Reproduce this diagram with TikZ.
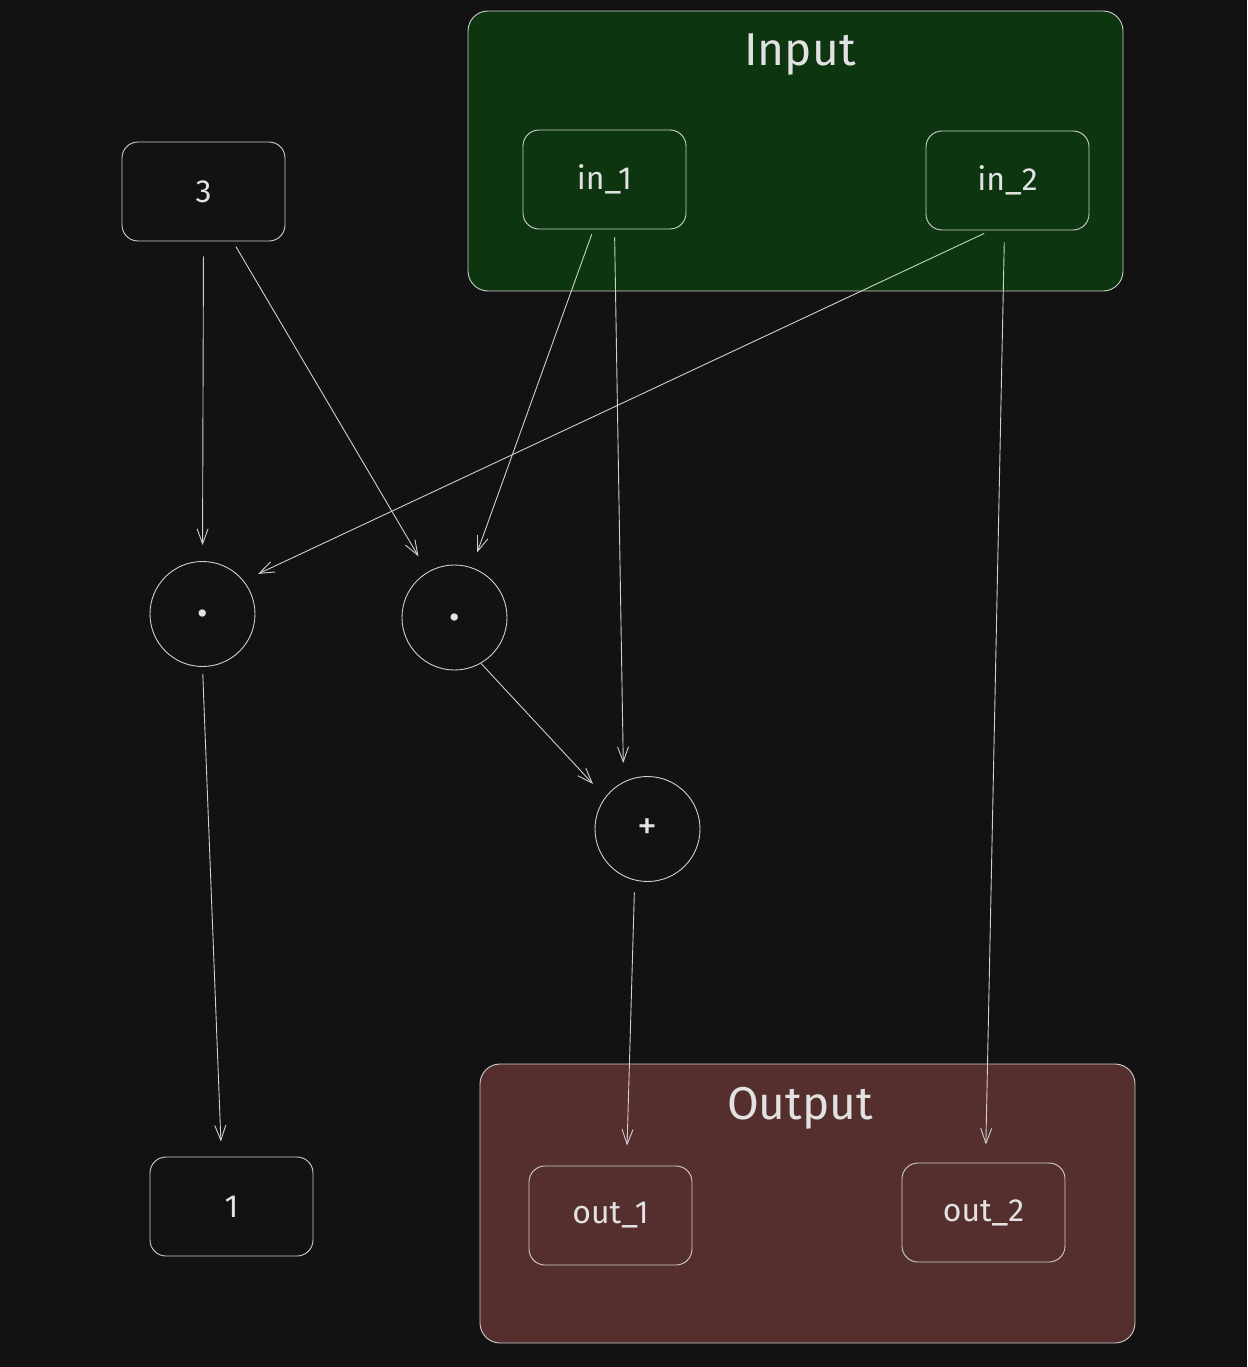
\documentclass[tikz,border=0pt]{standalone}
\usepackage{fontspec}
\setmainfont{Fira Sans}
\usetikzlibrary{arrows.meta}
\definecolor{bg}{HTML}{121212}
\definecolor{ingreen}{HTML}{0D3510}
\definecolor{outred}{HTML}{552F2E}
\definecolor{strokec}{HTML}{CFCFCF}
\definecolor{textc}{HTML}{E2E2E2}
\tikzset{
  container/.style={draw=strokec, line width=0.9pt, rounded corners=20pt, inner sep=0pt},
  title/.style={text=textc, font=\fontsize{46}{48}\selectfont},
  valbox/.style={draw=strokec, line width=0.9pt, rounded corners=16pt, minimum width=163pt, minimum height=99pt, inner sep=0pt, text=textc, font=\fontsize{32}{34}\selectfont},
  opnode/.style={circle, draw=strokec, line width=0.9pt, minimum size=105pt, inner sep=0pt, text=textc, font=\fontsize{40}{42}\selectfont},
  conn/.style={draw=strokec, line width=0.9pt, -{Straight Barb[length=15pt, width=11pt, line width=0.9pt]}},
}
\begin{document}
\begin{tikzpicture}[x=1pt, y=-1pt]
\fill[bg] (0,0) rectangle (1247,1367);
\useasboundingbox (0,0) rectangle (1247,1367);
% containers
\node[container, fill=ingreen, minimum width=655pt, minimum height=280pt] (input) at (795.5,151) {};
\node[title] (inputtitle) at (800,55) {Input};
\node[container, fill=outred, minimum width=655pt, minimum height=279pt] (output) at (807.5,1203.5) {};
\node[title] (outputtitle) at (800,1108) {Output};
% value boxes
\node[valbox] (in1) at (604.5,179.5) {in\_1};
\node[valbox] (in2) at (1007.5,180.5) {in\_2};
\node[valbox] (three) at (203.5,191.5) {3};
\node[valbox] (one) at (231.5,1206.5) {1};
\node[valbox] (out1) at (610.5,1215.5) {out\_1};
\node[valbox] (out2) at (983.5,1212.5) {out\_2};
% operation nodes
\node[opnode, font=\fontsize{52}{54}\selectfont] (dot1) at (202.5,614) {.};
\node[opnode, font=\fontsize{52}{54}\selectfont] (dot2) at (454.5,617.5) {.};
\node[opnode] (plus) at (647.5,829) {+};
% connectors
\draw[conn, shorten <=15pt, shorten >=16pt] (three.south) -- (dot1.north);
\draw[conn, shorten <=6pt, shorten >=18pt] (three) -- (dot2);
\draw[conn, shorten <=5pt, shorten >=16pt] ([xshift=-11pt]in1.south) -- (dot2.71);
\draw[conn, shorten <=8pt, shorten >=13pt] ([xshift=10pt]in1.south) -- ([xshift=-24pt]plus.north);
\draw[conn, shorten <=7pt, shorten >=16pt] ([xshift=-17pt]in2.south) -- (dot1.39);
\draw[conn, shorten <=12pt, shorten >=18pt] ([xshift=-3pt]in2.south) -- ([xshift=2pt]out2.north);
\draw[conn, shorten >=18pt] (dot2.-60) -- (plus.143);
\draw[conn, shorten <=7pt, shorten >=15pt] (dot1.south) -- ([xshift=-10pt]one.north);
\draw[conn, shorten <=12pt, shorten >=20pt] (plus.-104) -- ([xshift=16pt]out1.north);
\end{tikzpicture}
\end{document}
